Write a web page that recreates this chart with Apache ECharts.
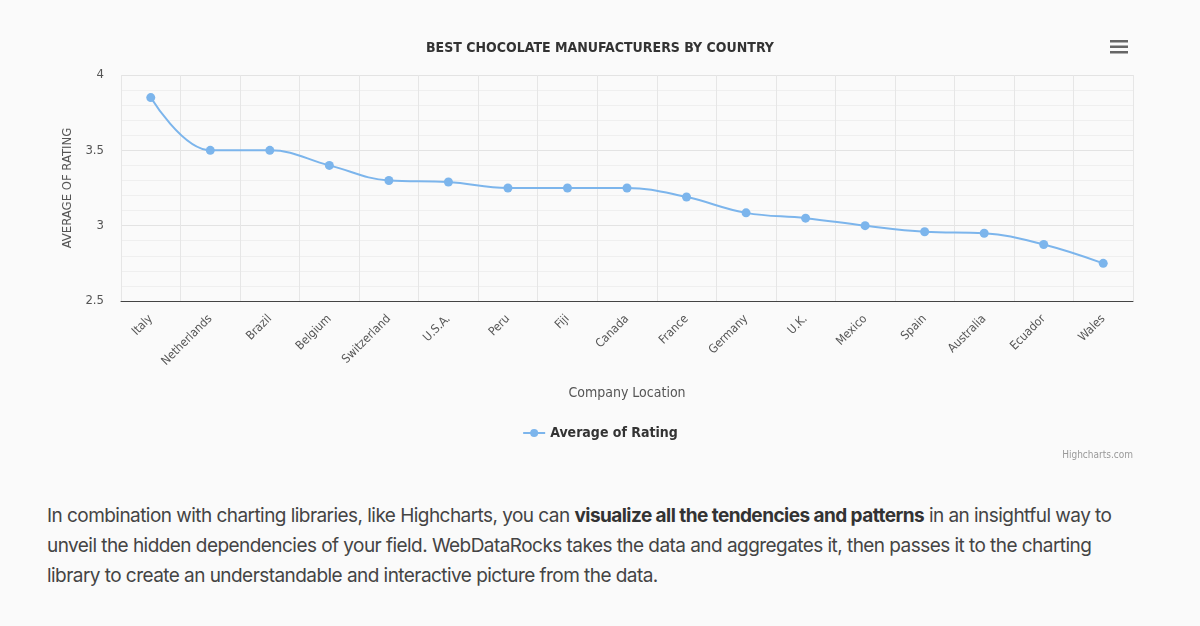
<!DOCTYPE html>
<html>
<head>
<meta charset="utf-8">
<script src="https://cdn.jsdelivr.net/npm/echarts@6/dist/echarts.min.js"></script>
<style>
  html, body { margin: 0; padding: 0; background: #fafafa; }
  #chart { position: absolute; left: 0; top: 0; width: 1200px; height: 480px; }
  #text {
    position: absolute; left: 47px; top: 501px; width: 1130px;
    font-family: Inter, "Noto Sans", sans-serif; font-size: 19px; line-height: 30px;
    color: #444; letter-spacing: -0.55px;
  }
  #text b { color: #333; }
</style>
</head>
<body>
<div id="chart"></div>
<div id="text">In combination with charting libraries, like Highcharts, you can <b>visualize all the tendencies and patterns</b> in an insightful way to<br>unveil the hidden dependencies of your field. WebDataRocks takes the data and aggregates it, then passes it to the charting<br>library to create an understandable and interactive picture from the data.</div>
<script>
// values
var countries = ['Italy', 'Netherlands', 'Brazil', 'Belgium', 'Switzerland', 'U.S.A.', 'Peru', 'Fiji',
    'Canada', 'France', 'Germany', 'U.K.', 'Mexico', 'Spain', 'Australia', 'Ecuador', 'Wales'];
var avgRating = [3.85, 3.50, 3.50, 3.40, 3.30, 3.29, 3.25, 3.25,
    3.25, 3.19, 3.085, 3.05, 3.00, 2.96, 2.95, 2.875, 2.75];
var yTicks = [2.5, 3, 3.5, 4];

var font = '"Liberation Sans Narrow", "DejaVu Sans Condensed", sans-serif';
var myChart = echarts.init(document.getElementById('chart'));
var option = {
    backgroundColor: '#fafafa',
    title: {
        text: 'BEST CHOCOLATE MANUFACTURERS BY COUNTRY',
        left: 'center',
        top: 36,
        textStyle: { fontFamily: font, fontSize: 14, fontWeight: 'bold', color: '#333' }
    },
    legend: {
        top: 421,
        left: 'center',
        itemWidth: 22,
        itemHeight: 10,
        textStyle: { fontFamily: font, fontSize: 14, fontWeight: 'bold', color: '#333' },
        data: ['Average of Rating']
    },
    grid: { left: 121, right: 67, top: 75, height: 226 },
    xAxis: {
        type: 'category',
        data: countries,
        name: 'Company Location',
        nameLocation: 'middle',
        nameGap: 85,
        nameTextStyle: { fontFamily: font, fontSize: 14, color: '#555' },
        boundaryGap: true,
        axisLine: { lineStyle: { color: '#444', width: 1 } },
        axisTick: { show: false },
        axisLabel: { interval: 0, rotate: 45, margin: 16, fontFamily: font, fontSize: 12, color: '#555' },
        splitLine: { show: true, interval: 0, lineStyle: { color: '#e6e6e6' } }
    },
    yAxis: {
        type: 'value',
        min: yTicks[0],
        max: yTicks[yTicks.length - 1],
        interval: 0.5,
        name: 'AVERAGE OF RATING',
        nameLocation: 'middle',
        nameRotate: 90,
        nameGap: 45,
        nameTextStyle: { fontFamily: font, fontSize: 13, color: '#555' },
        axisLine: { show: false },
        axisTick: { show: false },
        axisLabel: { margin: 17, fontFamily: font, fontSize: 13, color: '#555' },
        splitLine: { lineStyle: { color: '#e3e3e3' } },
        minorTick: { show: false, splitNumber: 5 },
        minorSplitLine: { show: true, lineStyle: { color: '#efefef' } }
    },
    graphic: [
        { type: 'rect', shape: { x: 1110, y: 40, width: 18, height: 2.5 }, style: { fill: '#666' } },
        { type: 'rect', shape: { x: 1110, y: 45.5, width: 18, height: 2.5 }, style: { fill: '#666' } },
        { type: 'rect', shape: { x: 1110, y: 51, width: 18, height: 2.5 }, style: { fill: '#666' } },
        { type: 'text', right: 67, top: 450,
          style: { text: 'Highcharts.com', fontFamily: font, fontSize: 10, fill: '#999' } }
    ],
    series: [{
        name: 'Average of Rating',
        type: 'line',
        smooth: 0.4,
        data: avgRating,
        symbol: 'circle',
        symbolSize: 9,
        lineStyle: { color: '#7cb5ec', width: 2 },
        itemStyle: { color: '#7cb5ec' }
    }]
};
myChart.setOption(option);
</script>
</body>
</html>
